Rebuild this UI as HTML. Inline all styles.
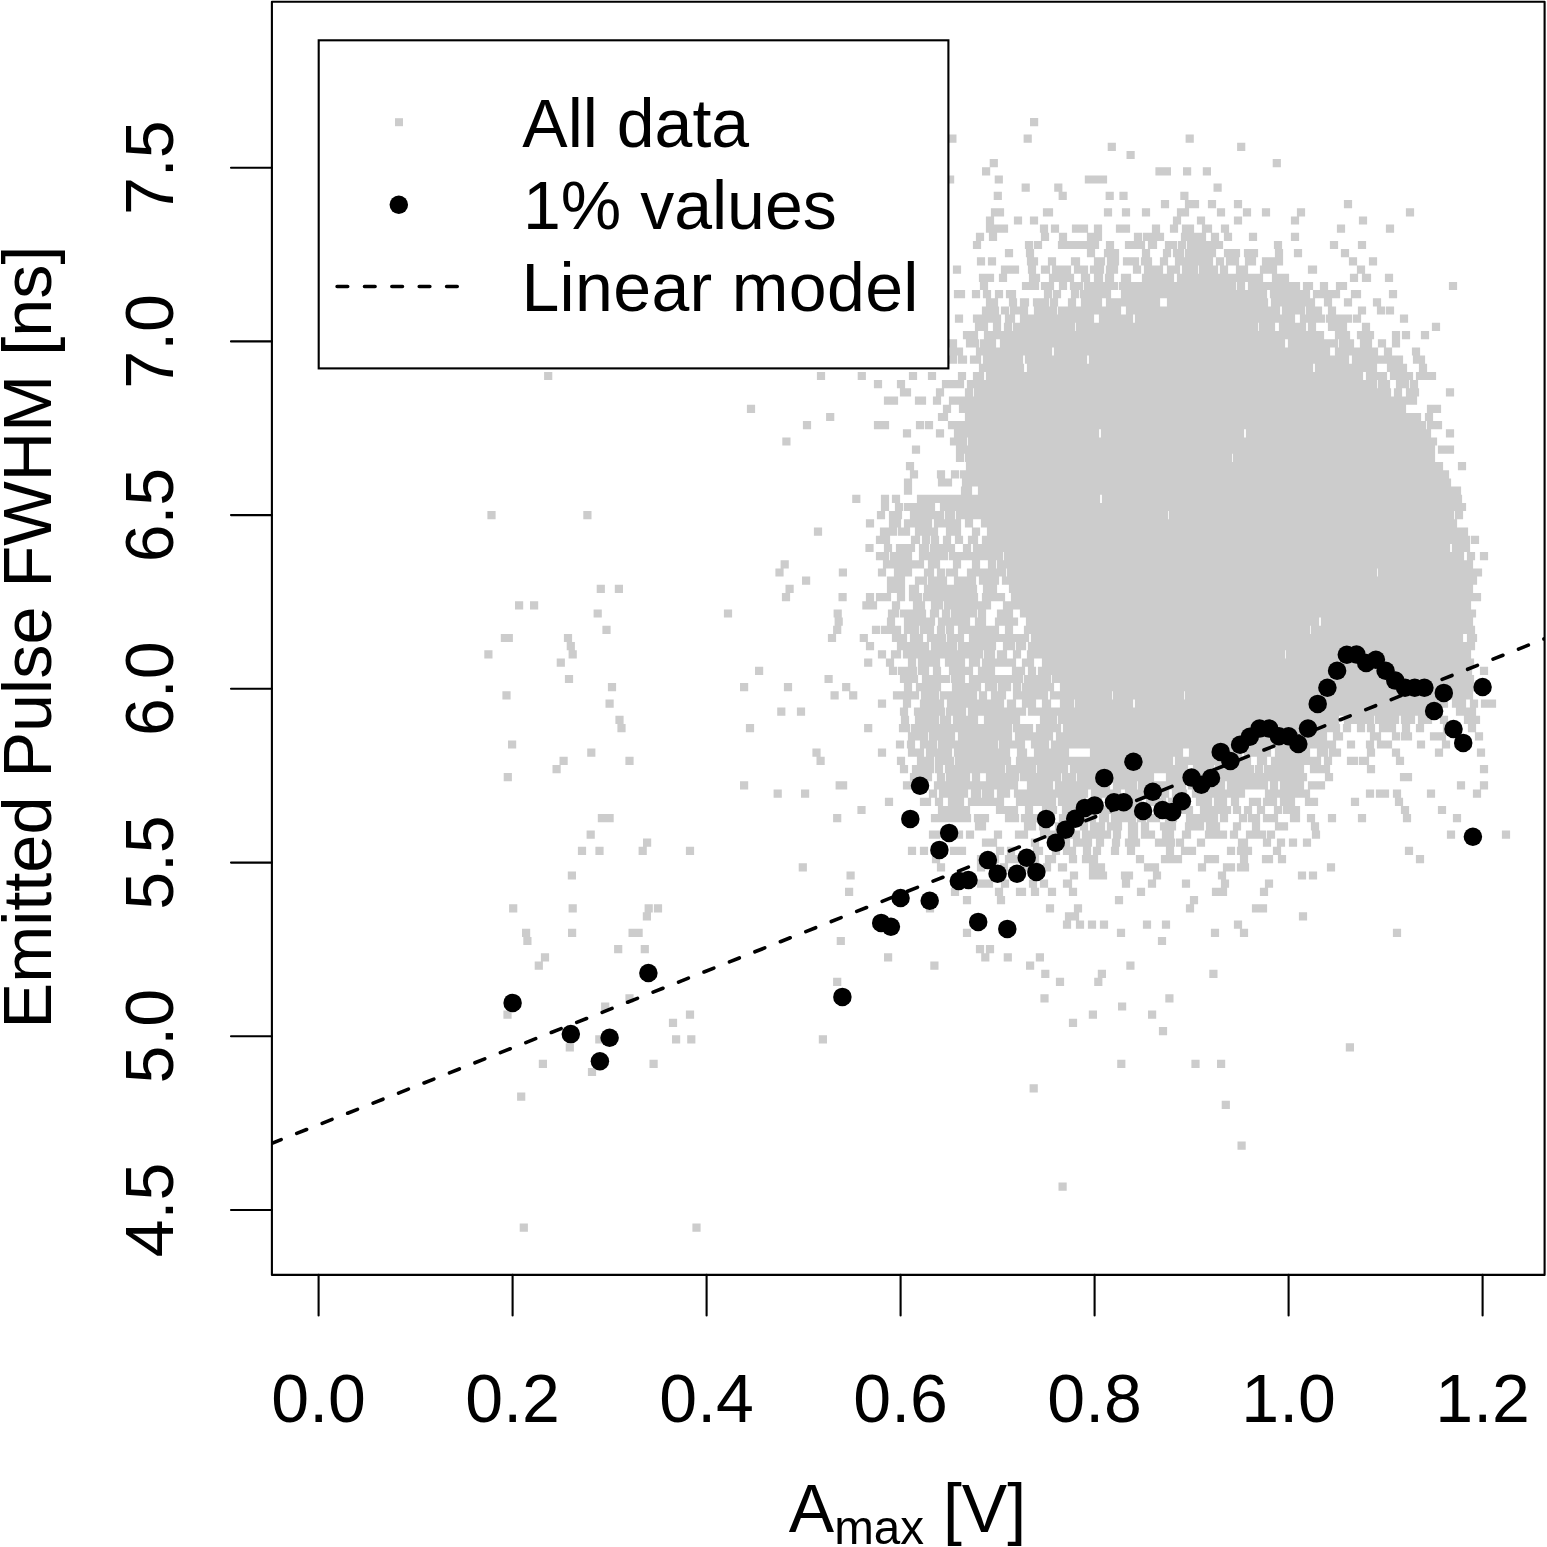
<!DOCTYPE html>
<html lang="en">
<head>
<meta charset="utf-8">
<title>Emitted Pulse FWHM vs Amax</title>
<style>
html,body{margin:0;padding:0;background:#fff;}
body{width:1547px;height:1547px;overflow:hidden;}
svg{display:block;}
</style>
</head>
<body>
<svg width="1547" height="1547" viewBox="0 0 1547 1547">
<rect width="1547" height="1547" fill="#fff"/>
<defs><clipPath id="pc"><rect x="271.9" y="1.8" width="1272.7" height="1273.1"/></clipPath></defs>
<g clip-path="url(#pc)">
<path fill="#cccccc" d="M1030 118.1h8.2v8.2h-8.2zM948.3 134.5h8.2v8.2h-8.2zM1023.6 134.5h8.2v8.2h-8.2zM1185.6 134.5h8.2v8.2h-8.2zM1107.7 142.7h8.2v8.2h-8.2zM1237.1 142.7h8.2v8.2h-8.2zM1126.5 150.9h8.2v8.2h-8.2zM989.7 159h8.2v8.2h-8.2zM1272.7 159h8.2v8.2h-8.2zM982 167.2h8.2v8.2h-8.2zM1155.4 167.2h15.6v8.2h-15.6zM1183 167.2h8.2v8.2h-8.2zM1202.8 167.2h8.2v8.2h-8.2zM946 175.4h8.2v8.2h-8.2zM994.7 175.4h8.2v8.2h-8.2zM1084.8 175.4h22.3v8.2h-22.3zM1021.6 183.6h8.2v8.2h-8.2zM1054.2 183.6h8.2v8.2h-8.2zM1213.5 183.6h8.2v8.2h-8.2zM993.7 191.8h8.2v8.2h-8.2zM1058.6 191.8h8.2v8.2h-8.2zM1105.6 191.8h8.2v8.2h-8.2zM1119.4 191.8h8.2v8.2h-8.2zM1180.3 191.8h8.2v8.2h-8.2zM1160.9 200h8.2v8.2h-8.2zM1184.9 200h14.2v8.2h-14.2zM1207.9 200h8.2v8.2h-8.2zM1233.9 200h8.2v8.2h-8.2zM1343.9 200h8.2v8.2h-8.2zM990.9 208.2h13.2v8.2h-13.2zM1042.9 208.2h10.2v8.2h-10.2zM1103.9 208.2h8.2v8.2h-8.2zM1121.9 208.2h8.2v8.2h-8.2zM1141.9 208.2h8.2v8.2h-8.2zM1176.9 208.2h12.2v8.2h-12.2zM1216.9 208.2h8.2v8.2h-8.2zM1242.9 208.2h8.2v8.2h-8.2zM1261.9 208.2h8.2v8.2h-8.2zM1296.9 208.2h8.2v8.2h-8.2zM1405.9 208.2h8.2v8.2h-8.2zM985.9 216.4h8.2v8.2h-8.2zM1013.9 216.4h8.2v8.2h-8.2zM1029.9 216.4h8.2v8.2h-8.2zM1172.9 216.4h8.2v8.2h-8.2zM1196.9 216.4h8.2v8.2h-8.2zM1233.9 216.4h8.2v8.2h-8.2zM1290.9 216.4h8.2v8.2h-8.2zM1358.9 216.4h8.2v8.2h-8.2zM985.9 224.5h22.2v8.2h-22.2zM1039.9 224.5h8.2v8.2h-8.2zM1050.9 224.5h8.2v8.2h-8.2zM1071.9 224.5h16.2v8.2h-16.2zM1093.9 224.5h8.2v8.2h-8.2zM1115.9 224.5h14.2v8.2h-14.2zM1151.9 224.5h8.2v8.2h-8.2zM1169.9 224.5h8.2v8.2h-8.2zM1181.9 224.5h12.2v8.2h-12.2zM1201.9 224.5h10.2v8.2h-10.2zM1220.9 224.5h8.2v8.2h-8.2zM1336.9 224.5h8.2v8.2h-8.2zM1385.9 224.5h8.2v8.2h-8.2zM975.9 232.7h8.2v8.2h-8.2zM988.9 232.7h8.2v8.2h-8.2zM1040.9 232.7h8.2v8.2h-8.2zM1058.9 232.7h8.2v8.2h-8.2zM1086.9 232.7h15.2v8.2h-15.2zM1133.9 232.7h8.2v8.2h-8.2zM1142.9 232.7h21.2v8.2h-21.2zM1180.9 232.7h25.2v8.2h-25.2zM1210.9 232.7h8.2v8.2h-8.2zM1223.9 232.7h8.2v8.2h-8.2zM1248.9 232.7h8.2v8.2h-8.2zM1290.9 232.7h8.2v8.2h-8.2zM972.9 240.9h8.2v8.2h-8.2zM1024.9 240.9h8.2v8.2h-8.2zM1033.9 240.9h8.2v8.2h-8.2zM1057.9 240.9h41.2v8.2h-41.2zM1105.9 240.9h8.2v8.2h-8.2zM1124.9 240.9h20.2v8.2h-20.2zM1147.9 240.9h9.2v8.2h-9.2zM1164.9 240.9h12.2v8.2h-12.2zM1177.9 240.9h8.2v8.2h-8.2zM1186.9 240.9h36.2v8.2h-36.2zM1273.9 240.9h8.2v8.2h-8.2zM1329.9 240.9h8.2v8.2h-8.2zM1357.9 240.9h8.2v8.2h-8.2zM891.9 249.1h8.2v8.2h-8.2zM1004.9 249.1h8.2v8.2h-8.2zM1025.9 249.1h8.2v8.2h-8.2zM1086.9 249.1h8.2v8.2h-8.2zM1103.9 249.1h15.2v8.2h-15.2zM1141.9 249.1h8.2v8.2h-8.2zM1162.9 249.1h8.2v8.2h-8.2zM1172.9 249.1h11.2v8.2h-11.2zM1184.9 249.1h31.2v8.2h-31.2zM1223.9 249.1h16.2v8.2h-16.2zM1243.9 249.1h14.2v8.2h-14.2zM1274.9 249.1h8.2v8.2h-8.2zM1293.9 249.1h8.2v8.2h-8.2zM1340.9 249.1h8.2v8.2h-8.2zM976.9 257.3h8.2v8.2h-8.2zM987.9 257.3h8.2v8.2h-8.2zM1026.9 257.3h11.2v8.2h-11.2zM1047.9 257.3h8.2v8.2h-8.2zM1070.9 257.3h9.2v8.2h-9.2zM1093.9 257.3h11.2v8.2h-11.2zM1106.9 257.3h12.2v8.2h-12.2zM1122.9 257.3h16.2v8.2h-16.2zM1140.9 257.3h11.2v8.2h-11.2zM1159.9 257.3h8.2v8.2h-8.2zM1174.9 257.3h38.2v8.2h-38.2zM1215.9 257.3h8.2v8.2h-8.2zM1225.9 257.3h13.2v8.2h-13.2zM1244.9 257.3h11.2v8.2h-11.2zM1261.9 257.3h21.2v8.2h-21.2zM1348.9 257.3h8.2v8.2h-8.2zM1368.9 257.3h8.2v8.2h-8.2zM952.9 265.5h8.2v8.2h-8.2zM1000.9 265.5h18.2v8.2h-18.2zM1027.9 265.5h8.2v8.2h-8.2zM1040.9 265.5h9.2v8.2h-9.2zM1051.9 265.5h19.2v8.2h-19.2zM1073.9 265.5h14.2v8.2h-14.2zM1089.9 265.5h14.2v8.2h-14.2zM1105.9 265.5h12.2v8.2h-12.2zM1132.9 265.5h8.2v8.2h-8.2zM1143.9 265.5h19.2v8.2h-19.2zM1166.9 265.5h13.2v8.2h-13.2zM1181.9 265.5h16.2v8.2h-16.2zM1198.9 265.5h19.2v8.2h-19.2zM1219.9 265.5h8.2v8.2h-8.2zM1235.9 265.5h12.2v8.2h-12.2zM1259.9 265.5h17.2v8.2h-17.2zM1307.9 265.5h9.2v8.2h-9.2zM1356.9 265.5h8.2v8.2h-8.2zM921.9 273.7h8.2v8.2h-8.2zM978.9 273.7h15.2v8.2h-15.2zM998.9 273.7h8.2v8.2h-8.2zM1028.9 273.7h11.2v8.2h-11.2zM1048.9 273.7h25.2v8.2h-25.2zM1080.9 273.7h9.2v8.2h-9.2zM1093.9 273.7h9.2v8.2h-9.2zM1104.9 273.7h9.2v8.2h-9.2zM1120.9 273.7h10.2v8.2h-10.2zM1141.9 273.7h32.2v8.2h-32.2zM1176.9 273.7h86.2v8.2h-86.2zM1271.9 273.7h17.2v8.2h-17.2zM1349.9 273.7h8.2v8.2h-8.2zM1361.9 273.7h9.2v8.2h-9.2zM1384.9 273.7h8.2v8.2h-8.2zM979.9 281.9h8.2v8.2h-8.2zM1021.9 281.9h17.2v8.2h-17.2zM1040.9 281.9h13.2v8.2h-13.2zM1058.9 281.9h8.2v8.2h-8.2zM1069.9 281.9h13.2v8.2h-13.2zM1083.9 281.9h34.2v8.2h-34.2zM1118.9 281.9h117.2v8.2h-117.2zM1236.9 281.9h8.2v8.2h-8.2zM1247.9 281.9h52.2v8.2h-52.2zM1302.9 281.9h10.2v8.2h-10.2zM1319.9 281.9h8.2v8.2h-8.2zM1335.9 281.9h11.2v8.2h-11.2zM1448.9 281.9h8.2v8.2h-8.2zM953.9 290.1h11.2v8.2h-11.2zM971.9 290.1h8.2v8.2h-8.2zM982.9 290.1h8.2v8.2h-8.2zM994.9 290.1h8.2v8.2h-8.2zM1005.9 290.1h10.2v8.2h-10.2zM1043.9 290.1h8.2v8.2h-8.2zM1052.9 290.1h8.2v8.2h-8.2zM1070.9 290.1h8.2v8.2h-8.2zM1079.9 290.1h31.2v8.2h-31.2zM1120.9 290.1h146.2v8.2h-146.2zM1269.9 290.1h40.2v8.2h-40.2zM1312.9 290.1h27.2v8.2h-27.2zM1350.9 290.1h10.2v8.2h-10.2zM1388.9 290.1h8.2v8.2h-8.2zM985.9 298.2h12.2v8.2h-12.2zM1008.9 298.2h8.2v8.2h-8.2zM1019.9 298.2h9.2v8.2h-9.2zM1032.9 298.2h16.2v8.2h-16.2zM1049.9 298.2h8.2v8.2h-8.2zM1067.9 298.2h8.2v8.2h-8.2zM1080.9 298.2h21.2v8.2h-21.2zM1105.9 298.2h54.2v8.2h-54.2zM1166.9 298.2h101.2v8.2h-101.2zM1270.9 298.2h44.2v8.2h-44.2zM1323.9 298.2h8.2v8.2h-8.2zM1343.9 298.2h8.2v8.2h-8.2zM1372.9 298.2h8.2v8.2h-8.2zM981.9 306.4h17.2v8.2h-17.2zM1000.9 306.4h8.2v8.2h-8.2zM1009.9 306.4h18.2v8.2h-18.2zM1033.9 306.4h23.2v8.2h-23.2zM1057.9 306.4h63.2v8.2h-63.2zM1125.9 306.4h154.2v8.2h-154.2zM1281.9 306.4h23.2v8.2h-23.2zM1305.9 306.4h16.2v8.2h-16.2zM1327.9 306.4h8.2v8.2h-8.2zM1357.9 306.4h8.2v8.2h-8.2zM1376.9 306.4h8.2v8.2h-8.2zM1385.9 306.4h8.2v8.2h-8.2zM929.9 314.6h8.2v8.2h-8.2zM954.9 314.6h8.2v8.2h-8.2zM972.9 314.6h28.2v8.2h-28.2zM1004.9 314.6h10.2v8.2h-10.2zM1019.9 314.6h74.2v8.2h-74.2zM1098.9 314.6h34.2v8.2h-34.2zM1134.9 314.6h160.2v8.2h-160.2zM1299.9 314.6h25.2v8.2h-25.2zM1325.9 314.6h26.2v8.2h-26.2zM1352.9 314.6h8.2v8.2h-8.2zM1399.9 314.6h8.2v8.2h-8.2zM933.9 322.8h8.2v8.2h-8.2zM974.9 322.8h13.2v8.2h-13.2zM992.9 322.8h8.2v8.2h-8.2zM1003.9 322.8h8.2v8.2h-8.2zM1012.9 322.8h62.2v8.2h-62.2zM1075.9 322.8h182.2v8.2h-182.2zM1258.9 322.8h16.2v8.2h-16.2zM1278.9 322.8h27.2v8.2h-27.2zM1307.9 322.8h8.2v8.2h-8.2zM1327.9 322.8h19.2v8.2h-19.2zM1361.9 322.8h8.2v8.2h-8.2zM1431.9 322.8h8.2v8.2h-8.2zM962.9 331h15.2v8.2h-15.2zM983.9 331h340.2v8.2h-340.2zM1334.9 331h15.2v8.2h-15.2zM1356.9 331h17.2v8.2h-17.2zM1391.9 331h8.2v8.2h-8.2zM1401.9 331h8.2v8.2h-8.2zM1420.9 331h8.2v8.2h-8.2zM934.9 339.2h8.2v8.2h-8.2zM948.9 339.2h8.2v8.2h-8.2zM965.9 339.2h13.2v8.2h-13.2zM979.9 339.2h16.2v8.2h-16.2zM999.9 339.2h285.2v8.2h-285.2zM1287.9 339.2h50.2v8.2h-50.2zM1338.9 339.2h15.2v8.2h-15.2zM1359.9 339.2h12.2v8.2h-12.2zM1377.9 339.2h8.2v8.2h-8.2zM1391.9 339.2h8.2v8.2h-8.2zM893.9 347.4h8.2v8.2h-8.2zM940.9 347.4h8.2v8.2h-8.2zM949.9 347.4h13.2v8.2h-13.2zM975.9 347.4h76.2v8.2h-76.2zM1053.9 347.4h276.2v8.2h-276.2zM1334.9 347.4h43.2v8.2h-43.2zM1383.9 347.4h8.2v8.2h-8.2zM1411.9 347.4h8.2v8.2h-8.2zM948.9 355.6h8.2v8.2h-8.2zM957.9 355.6h9.2v8.2h-9.2zM969.9 355.6h11.2v8.2h-11.2zM982.9 355.6h40.2v8.2h-40.2zM1024.9 355.6h62.2v8.2h-62.2zM1088.9 355.6h260.2v8.2h-260.2zM1351.9 355.6h51.2v8.2h-51.2zM1412.9 355.6h12.2v8.2h-12.2zM978.9 363.7h45.2v8.2h-45.2zM1026.9 363.7h286.2v8.2h-286.2zM1314.9 363.7h62.2v8.2h-62.2zM1386.9 363.7h20.2v8.2h-20.2zM1418.9 363.7h8.2v8.2h-8.2zM544.1 371.9h8.2v8.2h-8.2zM816.9 371.9h8.2v8.2h-8.2zM857.7 371.9h8.2v8.2h-8.2zM908.9 371.9h8.2v8.2h-8.2zM927.9 371.9h8.2v8.2h-8.2zM957.9 371.9h8.2v8.2h-8.2zM972.9 371.9h11.2v8.2h-11.2zM985.9 371.9h377.2v8.2h-377.2zM1365.9 371.9h21.2v8.2h-21.2zM1389.9 371.9h23.2v8.2h-23.2zM1415.9 371.9h20.2v8.2h-20.2zM873.9 380.1h8.2v8.2h-8.2zM896.9 380.1h8.2v8.2h-8.2zM941.9 380.1h22.2v8.2h-22.2zM966.9 380.1h410.2v8.2h-410.2zM1377.9 380.1h12.2v8.2h-12.2zM1395.9 380.1h13.2v8.2h-13.2zM1409.9 380.1h8.2v8.2h-8.2zM899.9 388.3h11.2v8.2h-11.2zM935.9 388.3h8.2v8.2h-8.2zM964.9 388.3h8.2v8.2h-8.2zM973.9 388.3h417.2v8.2h-417.2zM1393.9 388.3h8.2v8.2h-8.2zM1405.9 388.3h13.2v8.2h-13.2zM1445.9 388.3h8.2v8.2h-8.2zM883.9 396.5h14.2v8.2h-14.2zM914.9 396.5h11.2v8.2h-11.2zM932.9 396.5h8.2v8.2h-8.2zM948.9 396.5h468.2v8.2h-468.2zM746.9 404.7h8.2v8.2h-8.2zM942.9 404.7h8.2v8.2h-8.2zM958.9 404.7h447.2v8.2h-447.2zM1426.9 404.7h14.2v8.2h-14.2zM826.1 412.9h8.2v8.2h-8.2zM937.9 412.9h10.2v8.2h-10.2zM964.9 412.9h456.2v8.2h-456.2zM1424.9 412.9h8.2v8.2h-8.2zM802.9 421.1h8.2v8.2h-8.2zM873.9 421.1h15.2v8.2h-15.2zM915.9 421.1h8.2v8.2h-8.2zM924.9 421.1h8.2v8.2h-8.2zM947.9 421.1h478.2v8.2h-478.2zM1426.9 421.1h15.2v8.2h-15.2zM902.9 429.2h8.2v8.2h-8.2zM935.9 429.2h8.2v8.2h-8.2zM953.9 429.2h145.2v8.2h-145.2zM1100.9 429.2h143.2v8.2h-143.2zM1245.9 429.2h185.2v8.2h-185.2zM1445.9 429.2h8.2v8.2h-8.2zM782.3 437.4h8.2v8.2h-8.2zM949.9 437.4h17.2v8.2h-17.2zM967.9 437.4h469.2v8.2h-469.2zM911.9 445.6h8.2v8.2h-8.2zM955.9 445.6h479.2v8.2h-479.2zM1437.9 445.6h16.2v8.2h-16.2zM955.9 453.8h8.2v8.2h-8.2zM964.9 453.8h267.2v8.2h-267.2zM1232.9 453.8h202.2v8.2h-202.2zM905.9 462h8.2v8.2h-8.2zM965.9 462h477.2v8.2h-477.2zM1457.9 462h8.2v8.2h-8.2zM909.9 470.2h8.2v8.2h-8.2zM936.9 470.2h8.2v8.2h-8.2zM950.9 470.2h8.2v8.2h-8.2zM959.9 470.2h489.2v8.2h-489.2zM903.9 478.4h8.2v8.2h-8.2zM937.9 478.4h14.2v8.2h-14.2zM961.9 478.4h489.2v8.2h-489.2zM903.9 486.6h8.2v8.2h-8.2zM960.9 486.6h11.2v8.2h-11.2zM977.9 486.6h483.2v8.2h-483.2zM852.2 494.8h8.2v8.2h-8.2zM880.9 494.8h8.2v8.2h-8.2zM891.9 494.8h8.2v8.2h-8.2zM916.9 494.8h183.2v8.2h-183.2zM1101.9 494.8h360.2v8.2h-360.2zM880.9 502.9h8.2v8.2h-8.2zM894.9 502.9h8.2v8.2h-8.2zM903.9 502.9h31.2v8.2h-31.2zM939.9 502.9h526.2v8.2h-526.2zM487.4 511.1h8.2v8.2h-8.2zM583.3 511.1h8.2v8.2h-8.2zM876.9 511.1h8.2v8.2h-8.2zM888.9 511.1h13.2v8.2h-13.2zM909.9 511.1h34.2v8.2h-34.2zM944.9 511.1h10.2v8.2h-10.2zM955.9 511.1h212.2v8.2h-212.2zM1168.9 511.1h285.2v8.2h-285.2zM1454.9 511.1h8.2v8.2h-8.2zM865.9 519.3h8.2v8.2h-8.2zM888.9 519.3h12.2v8.2h-12.2zM903.9 519.3h28.2v8.2h-28.2zM933.9 519.3h27.2v8.2h-27.2zM964.9 519.3h8.2v8.2h-8.2zM980.9 519.3h476.2v8.2h-476.2zM813.9 527.5h8.2v8.2h-8.2zM879.9 527.5h17.2v8.2h-17.2zM897.9 527.5h12.2v8.2h-12.2zM914.9 527.5h23.2v8.2h-23.2zM945.9 527.5h15.2v8.2h-15.2zM971.9 527.5h8.2v8.2h-8.2zM986.9 527.5h481.2v8.2h-481.2zM875.9 535.7h14.2v8.2h-14.2zM910.9 535.7h9.2v8.2h-9.2zM921.9 535.7h8.2v8.2h-8.2zM930.9 535.7h8.2v8.2h-8.2zM942.9 535.7h8.2v8.2h-8.2zM954.9 535.7h8.2v8.2h-8.2zM967.9 535.7h10.2v8.2h-10.2zM981.9 535.7h488.2v8.2h-488.2zM1470.9 535.7h8.2v8.2h-8.2zM865.4 543.9h8.2v8.2h-8.2zM883.9 543.9h8.2v8.2h-8.2zM895.9 543.9h19.2v8.2h-19.2zM918.9 543.9h10.2v8.2h-10.2zM929.9 543.9h25.2v8.2h-25.2zM962.9 543.9h8.2v8.2h-8.2zM972.9 543.9h477.2v8.2h-477.2zM1451.9 543.9h18.2v8.2h-18.2zM875.9 552.1h13.2v8.2h-13.2zM889.9 552.1h22.2v8.2h-22.2zM918.9 552.1h29.2v8.2h-29.2zM948.9 552.1h54.2v8.2h-54.2zM1003.9 552.1h460.2v8.2h-460.2zM1466.9 552.1h8.2v8.2h-8.2zM1479.9 552.1h8.2v8.2h-8.2zM780.6 560.3h8.2v8.2h-8.2zM882.9 560.3h41.2v8.2h-41.2zM927.9 560.3h12.2v8.2h-12.2zM952.9 560.3h8.2v8.2h-8.2zM971.9 560.3h8.2v8.2h-8.2zM987.9 560.3h8.2v8.2h-8.2zM996.9 560.3h476.2v8.2h-476.2zM775.4 568.4h8.2v8.2h-8.2zM838.8 568.4h8.2v8.2h-8.2zM877.9 568.4h8.2v8.2h-8.2zM893.9 568.4h18.2v8.2h-18.2zM923.9 568.4h10.2v8.2h-10.2zM936.9 568.4h8.2v8.2h-8.2zM945.9 568.4h12.2v8.2h-12.2zM966.9 568.4h39.2v8.2h-39.2zM1006.9 568.4h370.2v8.2h-370.2zM1377.9 568.4h104.2v8.2h-104.2zM802 576.6h8.2v8.2h-8.2zM886.9 576.6h18.2v8.2h-18.2zM914.9 576.6h12.2v8.2h-12.2zM927.9 576.6h19.2v8.2h-19.2zM953.9 576.6h22.2v8.2h-22.2zM978.9 576.6h20.2v8.2h-20.2zM1001.9 576.6h475.2v8.2h-475.2zM596.7 584.8h8.2v8.2h-8.2zM614.8 584.8h8.2v8.2h-8.2zM785.5 584.8h8.2v8.2h-8.2zM886.9 584.8h18.2v8.2h-18.2zM908.9 584.8h10.2v8.2h-10.2zM923.9 584.8h53.2v8.2h-53.2zM982.9 584.8h14.2v8.2h-14.2zM1008.9 584.8h464.2v8.2h-464.2zM781.9 593h8.2v8.2h-8.2zM838.5 593h8.2v8.2h-8.2zM865.9 593h8.2v8.2h-8.2zM875.9 593h15.2v8.2h-15.2zM896.9 593h8.2v8.2h-8.2zM908.9 593h13.2v8.2h-13.2zM922.9 593h55.2v8.2h-55.2zM981.9 593h23.2v8.2h-23.2zM1010.9 593h470.2v8.2h-470.2zM515 601.2h8.2v8.2h-8.2zM530 601.2h8.2v8.2h-8.2zM862.3 601.2h14.8v8.2h-14.8zM891.9 601.2h8.2v8.2h-8.2zM912.9 601.2h12.2v8.2h-12.2zM930.9 601.2h12.2v8.2h-12.2zM943.9 601.2h47.2v8.2h-47.2zM1002.9 601.2h468.2v8.2h-468.2zM593.6 609.4h8.2v8.2h-8.2zM723.9 609.4h8.2v8.2h-8.2zM833.6 609.4h8.2v8.2h-8.2zM887.9 609.4h11.2v8.2h-11.2zM899.9 609.4h26.2v8.2h-26.2zM929.9 609.4h9.2v8.2h-9.2zM941.9 609.4h8.2v8.2h-8.2zM950.9 609.4h26.2v8.2h-26.2zM977.9 609.4h8.2v8.2h-8.2zM996.9 609.4h16.2v8.2h-16.2zM1019.9 609.4h456.2v8.2h-456.2zM834.6 617.6h8.2v8.2h-8.2zM886.9 617.6h8.2v8.2h-8.2zM903.9 617.6h31.2v8.2h-31.2zM937.9 617.6h32.2v8.2h-32.2zM974.9 617.6h11.2v8.2h-11.2zM994.9 617.6h23.2v8.2h-23.2zM1025.9 617.6h293.2v8.2h-293.2zM1320.9 617.6h152.2v8.2h-152.2zM602.4 625.8h8.2v8.2h-8.2zM833.1 625.8h8.2v8.2h-8.2zM871.9 625.8h8.2v8.2h-8.2zM880.9 625.8h20.2v8.2h-20.2zM903.9 625.8h15.2v8.2h-15.2zM919.9 625.8h14.2v8.2h-14.2zM936.9 625.8h8.2v8.2h-8.2zM945.9 625.8h8.2v8.2h-8.2zM957.9 625.8h41.2v8.2h-41.2zM1004.9 625.8h8.2v8.2h-8.2zM1023.9 625.8h286.2v8.2h-286.2zM1310.9 625.8h164.2v8.2h-164.2zM500.8 633.9h12.1v8.2h-12.1zM563.9 633.9h8.2v8.2h-8.2zM827.9 633.9h8.2v8.2h-8.2zM859.7 633.9h8.2v8.2h-8.2zM891.9 633.9h15.2v8.2h-15.2zM909.9 633.9h13.2v8.2h-13.2zM926.9 633.9h19.2v8.2h-19.2zM946.9 633.9h17.2v8.2h-17.2zM968.9 633.9h60.2v8.2h-60.2zM1030.9 633.9h432.2v8.2h-432.2zM1466.9 633.9h10.2v8.2h-10.2zM566.7 642.1h8.2v8.2h-8.2zM865.9 642.1h8.2v8.2h-8.2zM896.9 642.1h32.2v8.2h-32.2zM930.9 642.1h26.2v8.2h-26.2zM957.9 642.1h38.2v8.2h-38.2zM1002.9 642.1h12.2v8.2h-12.2zM1015.9 642.1h10.2v8.2h-10.2zM1027.9 642.1h447.2v8.2h-447.2zM484.3 650.3h8.2v8.2h-8.2zM568.6 650.3h8.2v8.2h-8.2zM877.9 650.3h8.2v8.2h-8.2zM890.9 650.3h10.2v8.2h-10.2zM902.9 650.3h80.2v8.2h-80.2zM983.9 650.3h11.2v8.2h-11.2zM996.9 650.3h10.2v8.2h-10.2zM1012.9 650.3h8.2v8.2h-8.2zM1026.9 650.3h258.2v8.2h-258.2zM1285.9 650.3h185.2v8.2h-185.2zM556.7 658.5h8.2v8.2h-8.2zM864.1 658.5h8.2v8.2h-8.2zM885.9 658.5h8.2v8.2h-8.2zM907.9 658.5h8.2v8.2h-8.2zM917.9 658.5h22.2v8.2h-22.2zM944.9 658.5h20.2v8.2h-20.2zM968.9 658.5h11.2v8.2h-11.2zM981.9 658.5h34.2v8.2h-34.2zM1021.9 658.5h12.2v8.2h-12.2zM1041.9 658.5h432.2v8.2h-432.2zM755 666.7h8.2v8.2h-8.2zM888.9 666.7h8.2v8.2h-8.2zM897.9 666.7h19.2v8.2h-19.2zM917.9 666.7h11.2v8.2h-11.2zM932.9 666.7h8.2v8.2h-8.2zM948.9 666.7h24.2v8.2h-24.2zM977.9 666.7h17.2v8.2h-17.2zM1011.9 666.7h13.2v8.2h-13.2zM1027.9 666.7h8.2v8.2h-8.2zM1037.9 666.7h434.2v8.2h-434.2zM1479.9 666.7h8.2v8.2h-8.2zM564.9 674.9h8.2v8.2h-8.2zM824.5 674.9h8.2v8.2h-8.2zM899.9 674.9h18.2v8.2h-18.2zM921.9 674.9h28.2v8.2h-28.2zM950.9 674.9h14.2v8.2h-14.2zM968.9 674.9h54.2v8.2h-54.2zM1023.9 674.9h27.2v8.2h-27.2zM1051.9 674.9h422.2v8.2h-422.2zM607.9 683.1h8.2v8.2h-8.2zM740 683.1h8.2v8.2h-8.2zM783.9 683.1h8.2v8.2h-8.2zM842.1 683.1h8.2v8.2h-8.2zM903.9 683.1h8.2v8.2h-8.2zM915.9 683.1h25.2v8.2h-25.2zM951.9 683.1h29.2v8.2h-29.2zM984.9 683.1h12.2v8.2h-12.2zM997.9 683.1h13.2v8.2h-13.2zM1012.9 683.1h8.2v8.2h-8.2zM1021.9 683.1h32.2v8.2h-32.2zM1059.9 683.1h414.2v8.2h-414.2zM502.4 691.3h8.2v8.2h-8.2zM830.5 691.3h8.2v8.2h-8.2zM849.1 691.3h8.2v8.2h-8.2zM892.9 691.3h26.2v8.2h-26.2zM920.9 691.3h18.2v8.2h-18.2zM939.9 691.3h37.2v8.2h-37.2zM978.9 691.3h8.2v8.2h-8.2zM990.9 691.3h15.2v8.2h-15.2zM1012.9 691.3h35.2v8.2h-35.2zM1049.9 691.3h62.2v8.2h-62.2zM1112.9 691.3h71.2v8.2h-71.2zM1184.9 691.3h288.2v8.2h-288.2zM605.5 699.5h8.2v8.2h-8.2zM877.9 699.5h8.2v8.2h-8.2zM902.9 699.5h8.2v8.2h-8.2zM919.9 699.5h24.2v8.2h-24.2zM946.9 699.5h57.2v8.2h-57.2zM1006.9 699.5h9.2v8.2h-9.2zM1021.9 699.5h14.2v8.2h-14.2zM1041.9 699.5h9.2v8.2h-9.2zM1059.9 699.5h14.2v8.2h-14.2zM1074.9 699.5h58.2v8.2h-58.2zM1134.9 699.5h313.2v8.2h-313.2zM1451.9 699.5h14.2v8.2h-14.2zM1469.9 699.5h8.2v8.2h-8.2zM1480.9 699.5h15.2v8.2h-15.2zM777.2 707.6h8.2v8.2h-8.2zM796.9 707.6h8.2v8.2h-8.2zM899.9 707.6h8.2v8.2h-8.2zM913.9 707.6h31.2v8.2h-31.2zM945.9 707.6h20.2v8.2h-20.2zM967.9 707.6h58.2v8.2h-58.2zM1027.9 707.6h401.2v8.2h-401.2zM1432.9 707.6h8.2v8.2h-8.2zM1455.9 707.6h20.2v8.2h-20.2zM615.4 715.8h8.2v8.2h-8.2zM900.9 715.8h8.2v8.2h-8.2zM914.9 715.8h24.2v8.2h-24.2zM939.9 715.8h11.2v8.2h-11.2zM952.9 715.8h25.2v8.2h-25.2zM983.9 715.8h36.2v8.2h-36.2zM1039.9 715.8h17.2v8.2h-17.2zM1057.9 715.8h281.2v8.2h-281.2zM1343.9 715.8h30.2v8.2h-30.2zM1374.9 715.8h24.2v8.2h-24.2zM1400.9 715.8h14.2v8.2h-14.2zM1417.9 715.8h14.2v8.2h-14.2zM1439.9 715.8h8.2v8.2h-8.2zM1463.9 715.8h16.2v8.2h-16.2zM617.4 724h8.2v8.2h-8.2zM745.9 724h8.2v8.2h-8.2zM864.1 724h8.2v8.2h-8.2zM898.9 724h11.2v8.2h-11.2zM910.9 724h101.2v8.2h-101.2zM1012.9 724h20.2v8.2h-20.2zM1035.9 724h25.2v8.2h-25.2zM1062.9 724h277.2v8.2h-277.2zM1342.9 724h8.2v8.2h-8.2zM1356.9 724h8.2v8.2h-8.2zM1366.9 724h8.2v8.2h-8.2zM1378.9 724h17.2v8.2h-17.2zM1401.9 724h8.2v8.2h-8.2zM1415.9 724h8.2v8.2h-8.2zM1442.9 724h13.2v8.2h-13.2zM1467.9 724h8.2v8.2h-8.2zM907.9 732.2h20.2v8.2h-20.2zM928.9 732.2h26.2v8.2h-26.2zM957.9 732.2h54.2v8.2h-54.2zM1014.9 732.2h38.2v8.2h-38.2zM1055.9 732.2h271.2v8.2h-271.2zM1332.9 732.2h10.2v8.2h-10.2zM1369.9 732.2h11.2v8.2h-11.2zM1391.9 732.2h8.2v8.2h-8.2zM1400.9 732.2h11.2v8.2h-11.2zM1429.9 732.2h16.2v8.2h-16.2zM1474.9 732.2h8.2v8.2h-8.2zM508 740.4h8.2v8.2h-8.2zM895.9 740.4h8.2v8.2h-8.2zM906.9 740.4h8.2v8.2h-8.2zM919.9 740.4h17.2v8.2h-17.2zM937.9 740.4h60.2v8.2h-60.2zM998.9 740.4h26.2v8.2h-26.2zM1030.9 740.4h18.2v8.2h-18.2zM1050.9 740.4h285.2v8.2h-285.2zM1346.9 740.4h8.2v8.2h-8.2zM1365.9 740.4h8.2v8.2h-8.2zM1376.9 740.4h15.2v8.2h-15.2zM1416.9 740.4h8.2v8.2h-8.2zM1441.9 740.4h8.2v8.2h-8.2zM1454.9 740.4h8.2v8.2h-8.2zM587.2 748.6h8.2v8.2h-8.2zM812.4 748.6h8.2v8.2h-8.2zM877.9 748.6h8.2v8.2h-8.2zM907.9 748.6h16.2v8.2h-16.2zM925.9 748.6h26.2v8.2h-26.2zM953.9 748.6h56.2v8.2h-56.2zM1016.9 748.6h10.2v8.2h-10.2zM1033.9 748.6h35.2v8.2h-35.2zM1089.9 748.6h93.2v8.2h-93.2zM1188.9 748.6h35.2v8.2h-35.2zM1224.9 748.6h17.2v8.2h-17.2zM1243.9 748.6h27.2v8.2h-27.2zM1274.9 748.6h35.2v8.2h-35.2zM1316.9 748.6h11.2v8.2h-11.2zM1328.9 748.6h12.2v8.2h-12.2zM1366.9 748.6h8.2v8.2h-8.2zM1391.9 748.6h8.2v8.2h-8.2zM1434.9 748.6h8.2v8.2h-8.2zM1476.9 748.6h8.2v8.2h-8.2zM559.5 756.8h8.2v8.2h-8.2zM625.4 756.8h8.2v8.2h-8.2zM816.5 756.8h8.2v8.2h-8.2zM896.9 756.8h8.2v8.2h-8.2zM916.9 756.8h17.2v8.2h-17.2zM934.9 756.8h19.2v8.2h-19.2zM954.9 756.8h56.2v8.2h-56.2zM1015.9 756.8h157.2v8.2h-157.2zM1174.9 756.8h76.2v8.2h-76.2zM1256.9 756.8h10.2v8.2h-10.2zM1270.9 756.8h50.2v8.2h-50.2zM1323.9 756.8h8.2v8.2h-8.2zM1346.9 756.8h11.2v8.2h-11.2zM1358.9 756.8h10.2v8.2h-10.2zM1395.9 756.8h8.2v8.2h-8.2zM552.5 765h8.2v8.2h-8.2zM899.9 765h8.2v8.2h-8.2zM911.9 765h22.2v8.2h-22.2zM934.9 765h8.2v8.2h-8.2zM944.9 765h60.2v8.2h-60.2zM1005.9 765h30.2v8.2h-30.2zM1036.9 765h31.2v8.2h-31.2zM1069.9 765h118.2v8.2h-118.2zM1192.9 765h21.2v8.2h-21.2zM1214.9 765h39.2v8.2h-39.2zM1254.9 765h8.2v8.2h-8.2zM1263.9 765h40.2v8.2h-40.2zM1309.9 765h20.2v8.2h-20.2zM1366.9 765h8.2v8.2h-8.2zM1479.9 765h8.2v8.2h-8.2zM503.7 773.1h8.2v8.2h-8.2zM909.9 773.1h22.2v8.2h-22.2zM936.9 773.1h8.2v8.2h-8.2zM945.9 773.1h24.2v8.2h-24.2zM971.9 773.1h8.2v8.2h-8.2zM985.9 773.1h33.2v8.2h-33.2zM1019.9 773.1h41.2v8.2h-41.2zM1061.9 773.1h14.2v8.2h-14.2zM1076.9 773.1h77.2v8.2h-77.2zM1165.9 773.1h141.2v8.2h-141.2zM1324.9 773.1h8.2v8.2h-8.2zM1399.9 773.1h12.2v8.2h-12.2zM740 781.3h8.2v8.2h-8.2zM835.6 781.3h11.6v8.2h-11.6zM902.9 781.3h8.2v8.2h-8.2zM917.9 781.3h8.2v8.2h-8.2zM933.9 781.3h84.2v8.2h-84.2zM1026.9 781.3h26.2v8.2h-26.2zM1054.9 781.3h55.2v8.2h-55.2zM1112.9 781.3h24.2v8.2h-24.2zM1137.9 781.3h48.2v8.2h-48.2zM1187.9 781.3h19.2v8.2h-19.2zM1207.9 781.3h17.2v8.2h-17.2zM1226.9 781.3h41.2v8.2h-41.2zM1269.9 781.3h8.2v8.2h-8.2zM1279.9 781.3h24.2v8.2h-24.2zM1307.9 781.3h17.2v8.2h-17.2zM1456.9 781.3h8.2v8.2h-8.2zM1479.9 781.3h8.2v8.2h-8.2zM773.6 789.5h8.2v8.2h-8.2zM801 789.5h8.2v8.2h-8.2zM928.9 789.5h8.2v8.2h-8.2zM938.9 789.5h29.2v8.2h-29.2zM970.9 789.5h10.2v8.2h-10.2zM981.9 789.5h12.2v8.2h-12.2zM996.9 789.5h13.2v8.2h-13.2zM1013.9 789.5h74.2v8.2h-74.2zM1090.9 789.5h30.2v8.2h-30.2zM1124.9 789.5h28.2v8.2h-28.2zM1160.9 789.5h8.2v8.2h-8.2zM1171.9 789.5h15.2v8.2h-15.2zM1191.9 789.5h53.2v8.2h-53.2zM1264.9 789.5h45.2v8.2h-45.2zM1365.9 789.5h8.2v8.2h-8.2zM1375.9 789.5h13.2v8.2h-13.2zM1392.9 789.5h8.2v8.2h-8.2zM1426.9 789.5h8.2v8.2h-8.2zM1472.9 789.5h8.2v8.2h-8.2zM884.9 797.7h8.2v8.2h-8.2zM919.9 797.7h11.2v8.2h-11.2zM934.9 797.7h8.2v8.2h-8.2zM947.9 797.7h16.2v8.2h-16.2zM967.9 797.7h36.2v8.2h-36.2zM1015.9 797.7h40.2v8.2h-40.2zM1057.9 797.7h28.2v8.2h-28.2zM1093.9 797.7h8.2v8.2h-8.2zM1104.9 797.7h17.2v8.2h-17.2zM1127.9 797.7h14.2v8.2h-14.2zM1145.9 797.7h20.2v8.2h-20.2zM1167.9 797.7h8.2v8.2h-8.2zM1176.9 797.7h8.2v8.2h-8.2zM1195.9 797.7h16.2v8.2h-16.2zM1213.9 797.7h13.2v8.2h-13.2zM1230.9 797.7h8.2v8.2h-8.2zM1248.9 797.7h12.2v8.2h-12.2zM1262.9 797.7h14.2v8.2h-14.2zM1279.9 797.7h15.2v8.2h-15.2zM1304.9 797.7h13.2v8.2h-13.2zM1350.9 797.7h8.2v8.2h-8.2zM1394.9 797.7h8.2v8.2h-8.2zM857.4 805.9h8.2v8.2h-8.2zM937.9 805.9h32.2v8.2h-32.2zM995.9 805.9h22.2v8.2h-22.2zM1024.9 805.9h8.2v8.2h-8.2zM1041.9 805.9h15.2v8.2h-15.2zM1061.9 805.9h85.2v8.2h-85.2zM1153.9 805.9h11.2v8.2h-11.2zM1166.9 805.9h8.2v8.2h-8.2zM1176.9 805.9h16.2v8.2h-16.2zM1199.9 805.9h31.2v8.2h-31.2zM1232.9 805.9h8.2v8.2h-8.2zM1243.9 805.9h8.2v8.2h-8.2zM1256.9 805.9h8.2v8.2h-8.2zM1273.9 805.9h8.2v8.2h-8.2zM1282.9 805.9h17.2v8.2h-17.2zM1400.9 805.9h8.2v8.2h-8.2zM1437.9 805.9h8.2v8.2h-8.2zM597.8 814.1h15.9v8.2h-15.9zM833.1 814.1h8.2v8.2h-8.2zM930.9 814.1h40.2v8.2h-40.2zM973.9 814.1h15.2v8.2h-15.2zM1004.9 814.1h14.2v8.2h-14.2zM1020.9 814.1h21.2v8.2h-21.2zM1045.9 814.1h9.2v8.2h-9.2zM1058.9 814.1h19.2v8.2h-19.2zM1078.9 814.1h17.2v8.2h-17.2zM1098.9 814.1h10.2v8.2h-10.2zM1110.9 814.1h25.2v8.2h-25.2zM1136.9 814.1h9.2v8.2h-9.2zM1146.9 814.1h13.2v8.2h-13.2zM1164.9 814.1h12.2v8.2h-12.2zM1185.9 814.1h32.2v8.2h-32.2zM1219.9 814.1h8.2v8.2h-8.2zM1238.9 814.1h8.2v8.2h-8.2zM1247.9 814.1h12.2v8.2h-12.2zM1262.9 814.1h15.2v8.2h-15.2zM1289.9 814.1h10.2v8.2h-10.2zM1306.9 814.1h8.2v8.2h-8.2zM1327.9 814.1h8.2v8.2h-8.2zM1357.9 814.1h8.2v8.2h-8.2zM1402.9 814.1h8.2v8.2h-8.2zM1452.9 814.1h8.2v8.2h-8.2zM974.9 822.3h11.2v8.2h-11.2zM1023.9 822.3h12.2v8.2h-12.2zM1038.9 822.3h11.2v8.2h-11.2zM1054.9 822.3h8.2v8.2h-8.2zM1079.9 822.3h8.2v8.2h-8.2zM1089.9 822.3h15.2v8.2h-15.2zM1106.9 822.3h15.2v8.2h-15.2zM1127.9 822.3h10.2v8.2h-10.2zM1140.9 822.3h8.2v8.2h-8.2zM1159.9 822.3h16.2v8.2h-16.2zM1184.9 822.3h19.2v8.2h-19.2zM1205.9 822.3h14.2v8.2h-14.2zM1232.9 822.3h8.2v8.2h-8.2zM1251.9 822.3h8.2v8.2h-8.2zM1274.9 822.3h13.2v8.2h-13.2zM1310.9 822.3h8.2v8.2h-8.2zM586.6 830.5h8.2v8.2h-8.2zM928.9 830.5h11.2v8.2h-11.2zM951.9 830.5h11.2v8.2h-11.2zM965.9 830.5h8.2v8.2h-8.2zM993.9 830.5h8.2v8.2h-8.2zM1014.9 830.5h13.2v8.2h-13.2zM1039.9 830.5h26.2v8.2h-26.2zM1067.9 830.5h12.2v8.2h-12.2zM1081.9 830.5h29.2v8.2h-29.2zM1112.9 830.5h8.2v8.2h-8.2zM1127.9 830.5h10.2v8.2h-10.2zM1140.9 830.5h14.2v8.2h-14.2zM1161.9 830.5h12.2v8.2h-12.2zM1181.9 830.5h9.2v8.2h-9.2zM1204.9 830.5h22.2v8.2h-22.2zM1229.9 830.5h8.2v8.2h-8.2zM1245.9 830.5h20.2v8.2h-20.2zM1266.9 830.5h8.2v8.2h-8.2zM1311.9 830.5h8.2v8.2h-8.2zM1446.9 830.5h8.2v8.2h-8.2zM1501.9 830.5h8.2v8.2h-8.2zM643 838.6h8.2v8.2h-8.2zM981.9 838.6h15.2v8.2h-15.2zM1030.9 838.6h8.2v8.2h-8.2zM1054.9 838.6h15.2v8.2h-15.2zM1072.9 838.6h19.2v8.2h-19.2zM1095.9 838.6h8.2v8.2h-8.2zM1111.9 838.6h8.2v8.2h-8.2zM1124.9 838.6h15.2v8.2h-15.2zM1154.9 838.6h20.2v8.2h-20.2zM1175.9 838.6h8.2v8.2h-8.2zM1196.9 838.6h8.2v8.2h-8.2zM1237.9 838.6h10.2v8.2h-10.2zM1262.9 838.6h8.2v8.2h-8.2zM1276.9 838.6h8.2v8.2h-8.2zM1288.9 838.6h8.2v8.2h-8.2zM1302.9 838.6h8.2v8.2h-8.2zM577.9 846.8h8.2v8.2h-8.2zM595.4 846.8h8.2v8.2h-8.2zM638.6 846.8h8.2v8.2h-8.2zM685.9 846.8h8.2v8.2h-8.2zM907.9 846.8h8.2v8.2h-8.2zM919.9 846.8h8.2v8.2h-8.2zM949.9 846.8h16.2v8.2h-16.2zM995.9 846.8h8.2v8.2h-8.2zM1006.9 846.8h8.2v8.2h-8.2zM1032.9 846.8h10.2v8.2h-10.2zM1051.9 846.8h8.2v8.2h-8.2zM1062.9 846.8h13.2v8.2h-13.2zM1082.9 846.8h8.2v8.2h-8.2zM1092.9 846.8h8.2v8.2h-8.2zM1110.9 846.8h8.2v8.2h-8.2zM1126.9 846.8h8.2v8.2h-8.2zM1165.9 846.8h8.2v8.2h-8.2zM1180.9 846.8h15.2v8.2h-15.2zM1226.9 846.8h8.2v8.2h-8.2zM1236.9 846.8h15.2v8.2h-15.2zM1272.9 846.8h8.2v8.2h-8.2zM1404.9 846.8h8.2v8.2h-8.2zM931.9 855h8.2v8.2h-8.2zM976.9 855h8.2v8.2h-8.2zM987.9 855h11.2v8.2h-11.2zM1004.9 855h18.2v8.2h-18.2zM1030.9 855h8.2v8.2h-8.2zM1044.9 855h11.2v8.2h-11.2zM1068.9 855h8.2v8.2h-8.2zM1081.9 855h16.2v8.2h-16.2zM1135.9 855h8.2v8.2h-8.2zM1160.9 855h21.2v8.2h-21.2zM1203.9 855h15.2v8.2h-15.2zM1239.9 855h8.2v8.2h-8.2zM1261.9 855h11.2v8.2h-11.2zM1277.9 855h8.2v8.2h-8.2zM1415.9 855h8.2v8.2h-8.2zM798.7 863.2h8.2v8.2h-8.2zM936.9 863.2h8.2v8.2h-8.2zM976.9 863.2h8.2v8.2h-8.2zM999.9 863.2h8.2v8.2h-8.2zM1022.9 863.2h10.2v8.2h-10.2zM1042.9 863.2h8.2v8.2h-8.2zM1057.9 863.2h9.2v8.2h-9.2zM1088.9 863.2h16.2v8.2h-16.2zM1143.9 863.2h15.2v8.2h-15.2zM1197.9 863.2h8.2v8.2h-8.2zM1222.9 863.2h12.2v8.2h-12.2zM1236.9 863.2h12.2v8.2h-12.2zM1326.9 863.2h8.2v8.2h-8.2zM567.8 871.4h8.2v8.2h-8.2zM846.5 871.4h8.2v8.2h-8.2zM956.9 871.4h13.2v8.2h-13.2zM989.9 871.4h16.2v8.2h-16.2zM1011.9 871.4h8.2v8.2h-8.2zM1069.9 871.4h8.2v8.2h-8.2zM1088.9 871.4h18.2v8.2h-18.2zM1120.9 871.4h12.2v8.2h-12.2zM1152.9 871.4h8.2v8.2h-8.2zM1217.9 871.4h8.2v8.2h-8.2zM1297.9 871.4h8.2v8.2h-8.2zM1308.9 871.4h8.2v8.2h-8.2zM976.9 879.6h16.2v8.2h-16.2zM1000.9 879.6h8.2v8.2h-8.2zM1028.9 879.6h8.2v8.2h-8.2zM1039.9 879.6h8.2v8.2h-8.2zM1062.9 879.6h9.2v8.2h-9.2zM1121.9 879.6h8.2v8.2h-8.2zM1147.9 879.6h8.2v8.2h-8.2zM1181.9 879.6h8.2v8.2h-8.2zM1220.9 879.6h8.2v8.2h-8.2zM1264.9 879.6h8.2v8.2h-8.2zM845 887.8h8.2v8.2h-8.2zM950.9 887.8h8.2v8.2h-8.2zM994.9 887.8h8.2v8.2h-8.2zM1015.9 887.8h10.2v8.2h-10.2zM1030.9 887.8h8.2v8.2h-8.2zM1047.9 887.8h8.2v8.2h-8.2zM1068.9 887.8h8.2v8.2h-8.2zM1136.9 887.8h8.2v8.2h-8.2zM1211.9 887.8h15.2v8.2h-15.2zM1259.9 887.8h8.2v8.2h-8.2zM962.9 896h8.2v8.2h-8.2zM996.9 896h8.2v8.2h-8.2zM1114.9 896h8.2v8.2h-8.2zM1189.9 896h8.2v8.2h-8.2zM509.1 904.2h8.2v8.2h-8.2zM568.6 904.2h8.2v8.2h-8.2zM644.6 904.2h8.2v8.2h-8.2zM653.9 904.2h8.2v8.2h-8.2zM925.9 904.2h8.2v8.2h-8.2zM1045.9 904.2h8.2v8.2h-8.2zM1073.9 904.2h8.2v8.2h-8.2zM1185.9 904.2h8.2v8.2h-8.2zM1251.9 904.2h15.2v8.2h-15.2zM642.8 912.3h8.2v8.2h-8.2zM1064.9 912.3h14.2v8.2h-14.2zM1298.9 912.3h8.2v8.2h-8.2zM1062.9 920.5h8.2v8.2h-8.2zM1075.9 920.5h8.2v8.2h-8.2zM1087.9 920.5h8.2v8.2h-8.2zM1099.9 920.5h8.2v8.2h-8.2zM1142.9 920.5h8.2v8.2h-8.2zM1161.9 920.5h8.2v8.2h-8.2zM1233.9 920.5h8.2v8.2h-8.2zM522 928.7h8.2v8.2h-8.2zM568 928.7h8.2v8.2h-8.2zM628.5 928.7h14.2v8.2h-14.2zM962.9 928.7h8.2v8.2h-8.2zM1116.9 928.7h8.2v8.2h-8.2zM1210.9 928.7h8.2v8.2h-8.2zM1239.9 928.7h8.2v8.2h-8.2zM1392.9 928.7h8.2v8.2h-8.2zM523.3 936.9h8.2v8.2h-8.2zM836.7 936.9h8.2v8.2h-8.2zM1157.9 936.9h8.2v8.2h-8.2zM614.1 945.1h8.2v8.2h-8.2zM640.7 945.1h8.2v8.2h-8.2zM975.9 945.1h8.2v8.2h-8.2zM985.9 945.1h8.2v8.2h-8.2zM540.9 953.3h8.2v8.2h-8.2zM884 953.3h8.2v8.2h-8.2zM981.2 953.3h8.2v8.2h-8.2zM1003.7 953.3h8.2v8.2h-8.2zM1035.8 953.3h8.2v8.2h-8.2zM534.7 961.5h8.2v8.2h-8.2zM930.3 961.5h8.2v8.2h-8.2zM1026 961.5h8.2v8.2h-8.2zM1126.3 961.5h8.2v8.2h-8.2zM1041.2 969.7h8.2v8.2h-8.2zM1097.8 969.7h8.2v8.2h-8.2zM1209.3 969.7h8.2v8.2h-8.2zM833.1 977.8h8.2v8.2h-8.2zM1055.9 977.8h8.2v8.2h-8.2zM1094.2 977.8h8.2v8.2h-8.2zM625.4 994.2h8.2v8.2h-8.2zM1040.4 994.2h8.2v8.2h-8.2zM1165.3 994.2h8.2v8.2h-8.2zM601.1 1002.4h8.2v8.2h-8.2zM1118 1002.4h8.2v8.2h-8.2zM503.4 1010.6h8.2v8.2h-8.2zM685.9 1010.6h8.2v8.2h-8.2zM1088.8 1010.6h8.2v8.2h-8.2zM1148 1010.6h8.2v8.2h-8.2zM668.9 1018.8h8.2v8.2h-8.2zM1068.9 1018.8h8.2v8.2h-8.2zM1158.9 1027h8.2v8.2h-8.2zM595.2 1035.2h8.2v8.2h-8.2zM672 1035.2h8.2v8.2h-8.2zM687.2 1035.2h8.2v8.2h-8.2zM818.8 1035.2h8.2v8.2h-8.2zM565.7 1043.3h8.2v8.2h-8.2zM1345.8 1043.3h8.2v8.2h-8.2zM538.8 1059.7h8.2v8.2h-8.2zM649.5 1059.7h8.2v8.2h-8.2zM1117.2 1059.7h8.2v8.2h-8.2zM1191.4 1059.7h8.2v8.2h-8.2zM1217 1059.7h8.2v8.2h-8.2zM587.9 1067.9h8.2v8.2h-8.2zM1029.6 1084.3h8.2v8.2h-8.2zM517.1 1092.5h8.2v8.2h-8.2zM1221.7 1100.7h8.2v8.2h-8.2zM1237.5 1141.6h8.2v8.2h-8.2zM1058.5 1182.5h8.2v8.2h-8.2zM519.7 1223.5h8.2v8.2h-8.2zM692.4 1223.5h8.2v8.2h-8.2z"/>
<g fill="#000">
<circle cx="512.6" cy="1002.9" r="9.25"/>
<circle cx="570.8" cy="1034.1" r="9.25"/>
<circle cx="599.9" cy="1061.2" r="9.25"/>
<circle cx="609.6" cy="1037.8" r="9.25"/>
<circle cx="648.4" cy="973" r="9.25"/>
<circle cx="842.4" cy="996.9" r="9.25"/>
<circle cx="881.2" cy="922.9" r="9.25"/>
<circle cx="890.9" cy="926.7" r="9.25"/>
<circle cx="900.6" cy="898" r="9.25"/>
<circle cx="910.3" cy="818.9" r="9.25"/>
<circle cx="920" cy="785.8" r="9.25"/>
<circle cx="929.7" cy="900.7" r="9.25"/>
<circle cx="939.4" cy="849.9" r="9.25"/>
<circle cx="949.1" cy="832.9" r="9.25"/>
<circle cx="958.8" cy="881" r="9.25"/>
<circle cx="968.5" cy="880" r="9.25"/>
<circle cx="978.2" cy="921.9" r="9.25"/>
<circle cx="987.9" cy="860" r="9.25"/>
<circle cx="997.6" cy="873.8" r="9.25"/>
<circle cx="1007.3" cy="928.9" r="9.25"/>
<circle cx="1017" cy="873.8" r="9.25"/>
<circle cx="1026.7" cy="857.7" r="9.25"/>
<circle cx="1036.4" cy="871.9" r="9.25"/>
<circle cx="1046.1" cy="818.9" r="9.25"/>
<circle cx="1055.8" cy="842.8" r="9.25"/>
<circle cx="1065.5" cy="829.8" r="9.25"/>
<circle cx="1075.2" cy="818.7" r="9.25"/>
<circle cx="1084.9" cy="807.9" r="9.25"/>
<circle cx="1094.6" cy="805.6" r="9.25"/>
<circle cx="1104.3" cy="777.9" r="9.25"/>
<circle cx="1114" cy="802.2" r="9.25"/>
<circle cx="1123.7" cy="802.3" r="9.25"/>
<circle cx="1133.4" cy="761.7" r="9.25"/>
<circle cx="1143.1" cy="811" r="9.25"/>
<circle cx="1152.8" cy="791.8" r="9.25"/>
<circle cx="1162.5" cy="810" r="9.25"/>
<circle cx="1172.2" cy="812" r="9.25"/>
<circle cx="1181.9" cy="801.3" r="9.25"/>
<circle cx="1191.6" cy="777.6" r="9.25"/>
<circle cx="1201.3" cy="784.8" r="9.25"/>
<circle cx="1211" cy="778" r="9.25"/>
<circle cx="1220.7" cy="751.9" r="9.25"/>
<circle cx="1230.4" cy="761" r="9.25"/>
<circle cx="1240.1" cy="744.7" r="9.25"/>
<circle cx="1249.8" cy="736.7" r="9.25"/>
<circle cx="1259.5" cy="728.6" r="9.25"/>
<circle cx="1269.2" cy="728.6" r="9.25"/>
<circle cx="1278.9" cy="736.3" r="9.25"/>
<circle cx="1288.6" cy="736.3" r="9.25"/>
<circle cx="1298.3" cy="744" r="9.25"/>
<circle cx="1308" cy="728.5" r="9.25"/>
<circle cx="1317.7" cy="703.9" r="9.25"/>
<circle cx="1327.4" cy="687.8" r="9.25"/>
<circle cx="1337.1" cy="670.8" r="9.25"/>
<circle cx="1346.8" cy="654.8" r="9.25"/>
<circle cx="1356.5" cy="654.5" r="9.25"/>
<circle cx="1366.2" cy="663" r="9.25"/>
<circle cx="1375.9" cy="659.8" r="9.25"/>
<circle cx="1385.6" cy="670.8" r="9.25"/>
<circle cx="1395.3" cy="680.6" r="9.25"/>
<circle cx="1405" cy="687.8" r="9.25"/>
<circle cx="1414.7" cy="687.8" r="9.25"/>
<circle cx="1424.4" cy="687.8" r="9.25"/>
<circle cx="1434.1" cy="711" r="9.25"/>
<circle cx="1443.8" cy="692.9" r="9.25"/>
<circle cx="1453.5" cy="729" r="9.25"/>
<circle cx="1463.2" cy="742.9" r="9.25"/>
<circle cx="1472.9" cy="836.8" r="9.25"/>
<circle cx="1482.6" cy="687" r="9.25"/>
</g>
<line x1="271.3" y1="1143.5" x2="1546" y2="638.2" stroke="#000" stroke-width="3.6" stroke-linecap="round" stroke-dasharray="10.6 16.78"/>
</g>
<g fill="none" stroke="#000" stroke-width="2.1" stroke-linecap="round" stroke-linejoin="round">
<rect x="271.9" y="1.8" width="1272.7" height="1273.1"/>
<line x1="318.6" y1="1274.9" x2="318.6" y2="1315.4"/>
<line x1="512.6" y1="1274.9" x2="512.6" y2="1315.4"/>
<line x1="706.6" y1="1274.9" x2="706.6" y2="1315.4"/>
<line x1="900.6" y1="1274.9" x2="900.6" y2="1315.4"/>
<line x1="1094.6" y1="1274.9" x2="1094.6" y2="1315.4"/>
<line x1="1288.6" y1="1274.9" x2="1288.6" y2="1315.4"/>
<line x1="1482.6" y1="1274.9" x2="1482.6" y2="1315.4"/>
<line x1="231" y1="1210" x2="271.9" y2="1210"/>
<line x1="231" y1="1036.3" x2="271.9" y2="1036.3"/>
<line x1="231" y1="862.6" x2="271.9" y2="862.6"/>
<line x1="231" y1="688.8" x2="271.9" y2="688.8"/>
<line x1="231" y1="515.1" x2="271.9" y2="515.1"/>
<line x1="231" y1="341.4" x2="271.9" y2="341.4"/>
<line x1="231" y1="167.7" x2="271.9" y2="167.7"/>
</g>
<g font-family="'Liberation Sans', Arial, Helvetica, sans-serif" font-size="68" fill="#000">
<text x="318.6" y="1422.3" text-anchor="middle">0.0</text>
<text x="512.6" y="1422.3" text-anchor="middle">0.2</text>
<text x="706.6" y="1422.3" text-anchor="middle">0.4</text>
<text x="900.6" y="1422.3" text-anchor="middle">0.6</text>
<text x="1094.6" y="1422.3" text-anchor="middle">0.8</text>
<text x="1288.6" y="1422.3" text-anchor="middle">1.0</text>
<text x="1482.6" y="1422.3" text-anchor="middle">1.2</text>
<text transform="translate(173.3 1210) rotate(-90)" text-anchor="middle">4.5</text>
<text transform="translate(173.3 1036.3) rotate(-90)" text-anchor="middle">5.0</text>
<text transform="translate(173.3 862.6) rotate(-90)" text-anchor="middle">5.5</text>
<text transform="translate(173.3 688.8) rotate(-90)" text-anchor="middle">6.0</text>
<text transform="translate(173.3 515.1) rotate(-90)" text-anchor="middle">6.5</text>
<text transform="translate(173.3 341.4) rotate(-90)" text-anchor="middle">7.0</text>
<text transform="translate(173.3 167.7) rotate(-90)" text-anchor="middle">7.5</text>
<text x="788.8" y="1532.3">A<tspan font-size="47.6" dy="11.9">max</tspan><tspan dy="-11.9"> [V]</tspan></text>
<text transform="translate(50.9 637) rotate(-90)" text-anchor="middle" font-size="68.4">Emitted Pulse FWHM [ns]</text>
</g>
<rect x="318.7" y="40.3" width="629.7" height="328.1" fill="#fff" stroke="#000" stroke-width="2.1"/>
<rect x="395" y="118.2" width="8" height="8" fill="#cccccc"/>
<circle cx="398.8" cy="204.8" r="9.25" fill="#000"/>
<line x1="337.1" y1="286.5" x2="458" y2="286.5" stroke="#000" stroke-width="3.6" stroke-linecap="round" stroke-dasharray="10.6 16.78"/>
<g font-family="'Liberation Sans', Arial, Helvetica, sans-serif" font-size="68" fill="#000">
<text x="522.3" y="146.6">All data</text>
<text x="523" y="228.6">1% values</text>
<text x="521.4" y="311" letter-spacing="0.36">Linear model</text>
</g>
</svg>
</body>
</html>
